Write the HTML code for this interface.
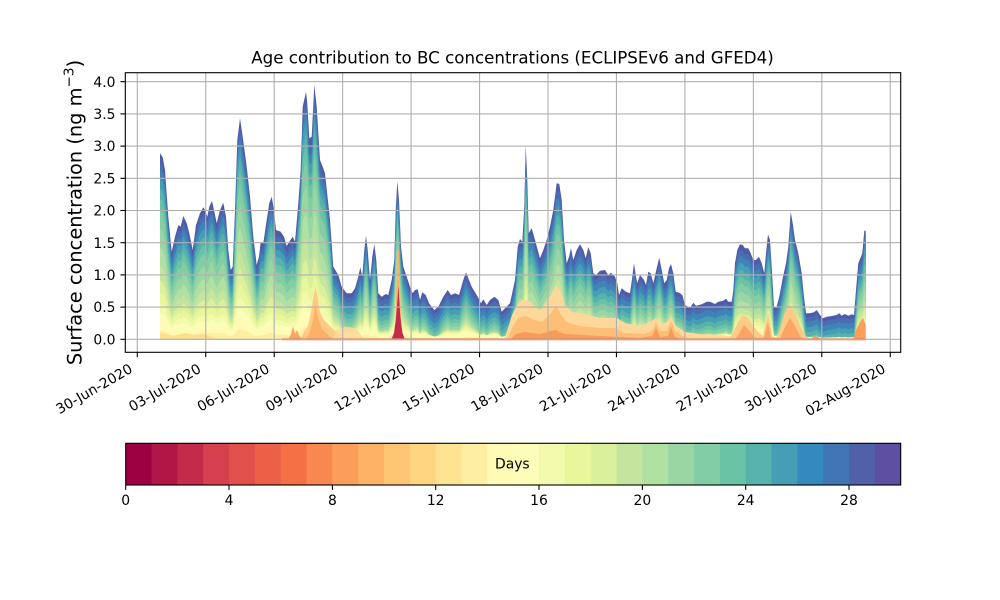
<!DOCTYPE html>
<html><head><meta charset="utf-8"><style>
html,body{margin:0;padding:0;background:#fff;}
svg{display:block;font-family:"DejaVu Sans","Liberation Sans",sans-serif;}
</style></head><body>
<svg width="1000" height="600" viewBox="0 0 1000 600" xmlns="http://www.w3.org/2000/svg">
<rect x="0" y="0" width="1000" height="600" fill="#fff"/>
<defs>
<clipPath id="cb"><rect x="0" y="0" width="1000" height="340"/></clipPath>
<path id="env" d="M160,340 L160,153.3 L162.7,157.3 L165,170 L168.3,216.7 L171.7,251.7 L175,236.7 L178.3,225 L180.7,226.7 L183.3,216 L186.7,223.3 L189.3,233.3 L192.7,250 L196,225 L200,213.3 L203.3,207.3 L205,210 L207.3,216.7 L209.3,206.7 L212,200.7 L214,210 L216.7,223.3 L220,210 L223.3,202.7 L226,216.7 L228.3,250 L230.7,270 L232.7,266.7 L235,210 L237.3,140 L240,118.3 L242.7,136.7 L246.7,166.7 L250,196.7 L253.3,236.7 L256.7,265 L259,256.7 L260.7,241.7 L263.3,243.3 L266.7,220 L269.3,203.3 L271.7,196.7 L274,210 L276,230 L280.7,231.7 L284,236.7 L286.7,246 L289.3,241.7 L292.7,236.7 L295,241.7 L298.3,203.3 L300.7,170 L302.7,106.7 L306,91.7 L307.3,103.3 L309.3,138.3 L311.7,136.7 L314.3,85 L316.7,106.7 L320,160 L322.7,166.7 L325,173.3 L330,220 L333.3,266.7 L338.3,275 L341.7,286.7 L346.7,293.3 L351.7,293.3 L355,288.3 L358.3,276.7 L360.3,267.3 L362.3,276.7 L364.3,250 L366,235.7 L367.7,250 L370,280 L372.3,256.7 L374.3,244 L376.3,260 L378.3,293.3 L381.7,296.7 L385.7,294 L388.3,295 L391.7,280 L394.3,260 L395.7,210 L397.3,181 L399,200 L401,246.7 L403.3,266.7 L406.7,276.7 L410,286.7 L412.7,293.3 L415,290 L417.7,289.3 L420,300 L422.3,292.3 L425.7,295 L429,303.3 L434.3,310 L438.3,306.7 L443.3,296.7 L447.7,290 L451,295 L455,293.3 L459,295 L463.3,280 L466,272.3 L468.3,278.3 L471.7,286.7 L476.7,295 L481,303.3 L483.3,299.3 L486.7,305 L490,300 L494.3,296.7 L498.3,300 L501.7,311.7 L505,308.3 L510,303.3 L515,280 L517.7,246.7 L520,239 L522.3,241.7 L524.3,206.7 L525.7,145 L527.3,180 L528.7,233.3 L531.7,228.3 L535,240 L540,258.3 L543.3,250 L546.7,240 L550,226.7 L553.3,210 L556.7,183.3 L559.3,184 L561.7,200 L564,240 L566.7,263.3 L569,256.7 L571,248.3 L573.3,260 L576.7,250 L580,244.3 L583.3,250 L585.7,258.3 L588.3,247.3 L590.7,253.3 L593.3,273.3 L596,275 L600,270.7 L605,270 L608.3,275 L611,272.7 L615,276.7 L617.3,283.3 L619,295 L621.7,288.3 L626,291.7 L630,293.3 L632.3,276.7 L634,263.3 L636,276.7 L637.3,283.3 L640,275 L644,280 L646,285 L648.3,271.7 L650.7,273.3 L653.3,283.3 L656.7,268.3 L659.3,257.7 L661.7,270 L664.3,283.3 L666.7,280 L669,268.3 L671,264 L673.3,273.3 L675.7,291.7 L679.3,292.7 L682.3,295 L685,305 L688.3,306.7 L690.7,306.7 L693.3,302.7 L696,305.7 L701.7,304.3 L706.7,301.7 L710,301.7 L715,304 L718.3,301.7 L723.3,300.7 L726,298.7 L728.3,301.7 L731.7,301.7 L733.3,290 L735,263.3 L737.3,250 L740,244.3 L742.7,245 L745,248.3 L748.3,248.3 L750.7,253.3 L753.3,260 L756,260 L759,256.7 L761.7,263.3 L764.3,273.3 L766,253.3 L768,234.3 L770,240 L771.7,266.7 L774,306.7 L776.7,306.7 L779.3,296.7 L782.7,278.3 L786,263.3 L788.3,246.7 L790.7,211.7 L792.7,223.3 L795,240 L798.3,253.3 L801.7,273.3 L804,296.7 L806,313.3 L810,313.3 L814,312.3 L816.7,310 L819.3,314 L822.7,318.3 L826.7,316.7 L831.7,316 L836.7,315 L839.3,313.3 L841.7,315.7 L845,314 L848.3,315.7 L851.7,314.3 L854,315 L856,290 L858.3,263.3 L862.3,253.3 L864.3,230.7 L865.7,230.7 L865.7,340 Z"/>
</defs>

<!-- stacked layers: boundary height = a*h - b -->
<g clip-path="url(#cb)">
<use href="#env" fill="#4f5ba8"/>
<use href="#env" fill="#4a6db1" transform="matrix(1,0,0,0.97,0,13.2)"/>
<use href="#env" fill="#3f84b9" transform="matrix(1,0,0,0.95,0,24)"/>
<use href="#env" fill="#469eb4" transform="matrix(1,0,0,0.93,0,35.8)"/>
<use href="#env" fill="#58b2ac" transform="matrix(1,0,0,0.90,0,50)"/>
<use href="#env" fill="#6ac3a5" transform="matrix(1,0,0,0.86,0,66.6)"/>
<use href="#env" fill="#83cda4" transform="matrix(1,0,0,0.80,0,88)"/>
<use href="#env" fill="#9ad6a4" transform="matrix(1,0,0,0.70,0,121)"/>
<use href="#env" fill="#b1e0a3" transform="matrix(1,0,0,0.58,0,158.8)"/>
<use href="#env" fill="#c5e59f" transform="matrix(1,0,0,0.46,0,195.6)"/>
<use href="#env" fill="#daf09a" transform="matrix(1,0,0,0.36,0,225.6)"/>
<use href="#env" fill="#e9f69c" transform="matrix(1,0,0,0.28,0,249.8)"/>
<use href="#env" fill="#f2faab" transform="matrix(1,0,0,0.21,0,271.6)"/>
<use href="#env" fill="#fbfdb8" transform="matrix(1,0,0,0.15,0,290)"/>
<use href="#env" fill="#fffab4" transform="matrix(1,0,0,0.10,0,306)"/>
<use href="#env" fill="#feeea2" transform="matrix(1,0,0,0.05,0,323)"/>
</g>

<!-- young-age (orange/red) contributions -->
<path d="M160,340 L160,333 L175,336 L185,333 L195,335 L205,334 L215,338 L220,340 Z" fill="#fed682" opacity="0.7"/>
<path d="M300,340 L304,332 L308,326 L311,312 L313.5,296 L315.5,288 L317.5,296 L320,312 L324,320 L330,326 L336,332 L342,336 L346,340 Z" fill="#fdcb85"/>
<path d="M306,340 L310,331 L313,320 L315.5,303 L318,318 L322,329 L328,335 L334,340 Z" fill="#fdb068"/>
<path d="M288,340 L291,334 L293,326 L295,334 L297,330 L299,335 L302,340 Z" fill="#fca463"/>
<path d="M333,340 L335,330 L345,327 L355,328 L360,333 L364,340 Z" fill="#fed99a" opacity="0.9"/>
<path d="M395,340 L397.2,250 L398.8,250 L401.5,340 Z" fill="#fdb365"/>
<path d="M391,340 L394,333 L396,318 L397.5,300 L398.3,285 L399.2,300 L400.5,318 L402.5,333 L405,340 Z" fill="#c42b4b"/>
<path d="M504,340 L508,328 L512,315 L517,305 L522,300 L528,300 L534,306 L540,310 L546,303 L551,295 L556,285 L561,292 L565,305 L572,312 L585,314 L600,318 L617,318 L625,323 L640,326 L650,322 L656,318 L661,324 L667,322 L671,316 L676,326 L685,332 L700,334 L720,335 L735,337 L745,340 Z" fill="#fed79a"/>
<path d="M507,340 L512,328 L518,318 L526,316 L534,320 L542,322 L550,314 L556,306 L561,314 L566,322 L580,326 L600,328 L615,328 L625,333 L645,334 L653,330 L656,322 L660,331 L667,331 L671,321 L675,331 L682,336 L690,340 Z" fill="#fdbf78"/>
<path d="M510,340 L516,334 L525,332 L540,334 L555,330 L565,334 L600,336 L640,338 L652,336 L656,328 L660,337 L668,336 L671,327 L675,337 L685,340 Z" fill="#f99b58"/>
<path d="M728,340 L733,333 L738,322 L743,315 L748,318 L753,325 L758,332 L763,336 L766,322 L768,314 L770,322 L772,336 L776,338 L780,330 L785,312 L790,305 L795,312 L800,325 L805,335 L810,340 Z" fill="#fdcb85"/>
<path d="M735,340 L740,332 L744,325 L749,330 L755,338 L764,338 L768,322 L771,338 L780,338 L786,325 L790,318 L795,326 L800,336 L804,340 Z" fill="#fca463"/>
<path d="M810,340 L814,336 L818,337 L822,340 Z" fill="#fa9e5a"/>
<path d="M853,340 L856,330 L860,322 L863,318 L865.7,325 L865.7,340 Z" fill="#fa9e5a"/>
<rect x="282" y="338.3" width="583.7" height="2" fill="#f07a50" opacity="0.85"/>

<!-- grid -->
<g stroke="#b0b0b0" stroke-width="1.1">
<line x1="125.3" x2="900.7" y1="339.3" y2="339.3"/>
<line x1="125.3" x2="900.7" y1="307.1" y2="307.1"/>
<line x1="125.3" x2="900.7" y1="274.9" y2="274.9"/>
<line x1="125.3" x2="900.7" y1="242.7" y2="242.7"/>
<line x1="125.3" x2="900.7" y1="210.5" y2="210.5"/>
<line x1="125.3" x2="900.7" y1="178.3" y2="178.3"/>
<line x1="125.3" x2="900.7" y1="146.1" y2="146.1"/>
<line x1="125.3" x2="900.7" y1="113.9" y2="113.9"/>
<line x1="125.3" x2="900.7" y1="81.7" y2="81.7"/>
<line y1="72.7" y2="352.3" x1="137.3" x2="137.3"/>
<line y1="72.7" y2="352.3" x1="205.75" x2="205.75"/>
<line y1="72.7" y2="352.3" x1="274.2" x2="274.2"/>
<line y1="72.7" y2="352.3" x1="342.65" x2="342.65"/>
<line y1="72.7" y2="352.3" x1="411.1" x2="411.1"/>
<line y1="72.7" y2="352.3" x1="479.55" x2="479.55"/>
<line y1="72.7" y2="352.3" x1="548" x2="548"/>
<line y1="72.7" y2="352.3" x1="616.45" x2="616.45"/>
<line y1="72.7" y2="352.3" x1="684.9" x2="684.9"/>
<line y1="72.7" y2="352.3" x1="753.35" x2="753.35"/>
<line y1="72.7" y2="352.3" x1="821.8" x2="821.8"/>
<line y1="72.7" y2="352.3" x1="890.25" x2="890.25"/>
</g>

<!-- axes frame -->
<rect x="125.3" y="72.7" width="775.4" height="279.6" fill="none" stroke="#000" stroke-width="1.1"/>

<!-- ticks -->
<g stroke="#000" stroke-width="1.1">
<line x1="120.4" x2="125.3" y1="339.3" y2="339.3"/>
<line x1="120.4" x2="125.3" y1="307.1" y2="307.1"/>
<line x1="120.4" x2="125.3" y1="274.9" y2="274.9"/>
<line x1="120.4" x2="125.3" y1="242.7" y2="242.7"/>
<line x1="120.4" x2="125.3" y1="210.5" y2="210.5"/>
<line x1="120.4" x2="125.3" y1="178.3" y2="178.3"/>
<line x1="120.4" x2="125.3" y1="146.1" y2="146.1"/>
<line x1="120.4" x2="125.3" y1="113.9" y2="113.9"/>
<line x1="120.4" x2="125.3" y1="81.7" y2="81.7"/>
<line y1="352.3" y2="357.2" x1="137.3" x2="137.3"/>
<line y1="352.3" y2="357.2" x1="205.75" x2="205.75"/>
<line y1="352.3" y2="357.2" x1="274.2" x2="274.2"/>
<line y1="352.3" y2="357.2" x1="342.65" x2="342.65"/>
<line y1="352.3" y2="357.2" x1="411.1" x2="411.1"/>
<line y1="352.3" y2="357.2" x1="479.55" x2="479.55"/>
<line y1="352.3" y2="357.2" x1="548" x2="548"/>
<line y1="352.3" y2="357.2" x1="616.45" x2="616.45"/>
<line y1="352.3" y2="357.2" x1="684.9" x2="684.9"/>
<line y1="352.3" y2="357.2" x1="753.35" x2="753.35"/>
<line y1="352.3" y2="357.2" x1="821.8" x2="821.8"/>
<line y1="352.3" y2="357.2" x1="890.25" x2="890.25"/>
</g>

<g font-size="13.9" fill="#000" text-anchor="end">
<text x="115.5" y="344.4">0.0</text>
<text x="115.5" y="312.2">0.5</text>
<text x="115.5" y="280">1.0</text>
<text x="115.5" y="247.8">1.5</text>
<text x="115.5" y="215.6">2.0</text>
<text x="115.5" y="183.4">2.5</text>
<text x="115.5" y="151.2">3.0</text>
<text x="115.5" y="119">3.5</text>
<text x="115.5" y="86.8">4.0</text>
</g>

<g font-size="13.9" fill="#000" text-anchor="end">
<text x="133.6" y="371.6" transform="rotate(-30 133.6 371.6)">30-Jun-2020</text>
<text x="202.05" y="371.6" transform="rotate(-30 202.05 371.6)">03-Jul-2020</text>
<text x="270.5" y="371.6" transform="rotate(-30 270.5 371.6)">06-Jul-2020</text>
<text x="338.95" y="371.6" transform="rotate(-30 338.95 371.6)">09-Jul-2020</text>
<text x="407.4" y="371.6" transform="rotate(-30 407.4 371.6)">12-Jul-2020</text>
<text x="475.85" y="371.6" transform="rotate(-30 475.85 371.6)">15-Jul-2020</text>
<text x="544.3" y="371.6" transform="rotate(-30 544.3 371.6)">18-Jul-2020</text>
<text x="612.75" y="371.6" transform="rotate(-30 612.75 371.6)">21-Jul-2020</text>
<text x="681.2" y="371.6" transform="rotate(-30 681.2 371.6)">24-Jul-2020</text>
<text x="749.65" y="371.6" transform="rotate(-30 749.65 371.6)">27-Jul-2020</text>
<text x="818.1" y="371.6" transform="rotate(-30 818.1 371.6)">30-Jul-2020</text>
<text x="886.55" y="371.6" transform="rotate(-30 886.55 371.6)">02-Aug-2020</text>
</g>

<text x="512.5" y="63.5" font-size="16.67" text-anchor="middle" fill="#000">Age contribution to BC concentrations (ECLIPSEv6 and GFED4)</text>

<text x="81.5" y="212.5" font-size="19.4" text-anchor="middle" fill="#000" transform="rotate(-90 81.5 212.5)">Surface concentration (ng m<tspan font-size="13.6" dy="-8">−3</tspan><tspan dy="8">)</tspan></text>

<!-- colorbar -->
<g>
<rect x="125.7" y="443.3" width="26.3" height="41.7" fill="#9e0142"/>
<rect x="151.53" y="443.3" width="26.3" height="41.7" fill="#b11646"/>
<rect x="177.37" y="443.3" width="26.3" height="41.7" fill="#c42b4b"/>
<rect x="203.2" y="443.3" width="26.3" height="41.7" fill="#d6404f"/>
<rect x="229.03" y="443.3" width="26.3" height="41.7" fill="#e1504a"/>
<rect x="254.87" y="443.3" width="26.3" height="41.7" fill="#eb6046"/>
<rect x="280.7" y="443.3" width="26.3" height="41.7" fill="#f57145"/>
<rect x="306.53" y="443.3" width="26.3" height="41.7" fill="#f8884f"/>
<rect x="332.37" y="443.3" width="26.3" height="41.7" fill="#fb9e5a"/>
<rect x="358.2" y="443.3" width="26.3" height="41.7" fill="#fdb365"/>
<rect x="384.03" y="443.3" width="26.3" height="41.7" fill="#fdc473"/>
<rect x="409.87" y="443.3" width="26.3" height="41.7" fill="#fed682"/>
<rect x="435.7" y="443.3" width="26.3" height="41.7" fill="#fee492"/>
<rect x="461.53" y="443.3" width="26.3" height="41.7" fill="#feeea2"/>
<rect x="487.37" y="443.3" width="26.3" height="41.7" fill="#fffab4"/>
<rect x="513.2" y="443.3" width="26.3" height="41.7" fill="#fbfdb8"/>
<rect x="539.03" y="443.3" width="26.3" height="41.7" fill="#f2faab"/>
<rect x="564.87" y="443.3" width="26.3" height="41.7" fill="#e9f69c"/>
<rect x="590.7" y="443.3" width="26.3" height="41.7" fill="#daf09a"/>
<rect x="616.53" y="443.3" width="26.3" height="41.7" fill="#c5e59f"/>
<rect x="642.37" y="443.3" width="26.3" height="41.7" fill="#b1e0a3"/>
<rect x="668.2" y="443.3" width="26.3" height="41.7" fill="#9ad6a4"/>
<rect x="694.03" y="443.3" width="26.3" height="41.7" fill="#83cda4"/>
<rect x="719.87" y="443.3" width="26.3" height="41.7" fill="#6ac3a5"/>
<rect x="745.7" y="443.3" width="26.3" height="41.7" fill="#58b2ac"/>
<rect x="771.53" y="443.3" width="26.3" height="41.7" fill="#469eb4"/>
<rect x="797.37" y="443.3" width="26.3" height="41.7" fill="#348abc"/>
<rect x="823.2" y="443.3" width="26.3" height="41.7" fill="#4076b5"/>
<rect x="849.03" y="443.3" width="26.3" height="41.7" fill="#5061aa"/>
<rect x="874.87" y="443.3" width="25.83" height="41.7" fill="#5e4fa2"/>
</g>
<rect x="125.7" y="443.3" width="775" height="41.7" fill="none" stroke="#000" stroke-width="1.1"/>
<text x="495" y="468.6" font-size="13.9" fill="#000">Days</text>
<g stroke="#000" stroke-width="1.1">
<line x1="125.7" x2="125.7" y1="485" y2="489.9"/>
<line x1="229" x2="229" y1="485" y2="489.9"/>
<line x1="332.4" x2="332.4" y1="485" y2="489.9"/>
<line x1="435.7" x2="435.7" y1="485" y2="489.9"/>
<line x1="539" x2="539" y1="485" y2="489.9"/>
<line x1="642.4" x2="642.4" y1="485" y2="489.9"/>
<line x1="745.7" x2="745.7" y1="485" y2="489.9"/>
<line x1="849" x2="849" y1="485" y2="489.9"/>
</g>
<g font-size="13.9" fill="#000" text-anchor="middle">
<text x="125.7" y="505">0</text>
<text x="229" y="505">4</text>
<text x="332.4" y="505">8</text>
<text x="435.7" y="505">12</text>
<text x="539" y="505">16</text>
<text x="642.4" y="505">20</text>
<text x="745.7" y="505">24</text>
<text x="849" y="505">28</text>
</g>
</svg>
</body></html>
